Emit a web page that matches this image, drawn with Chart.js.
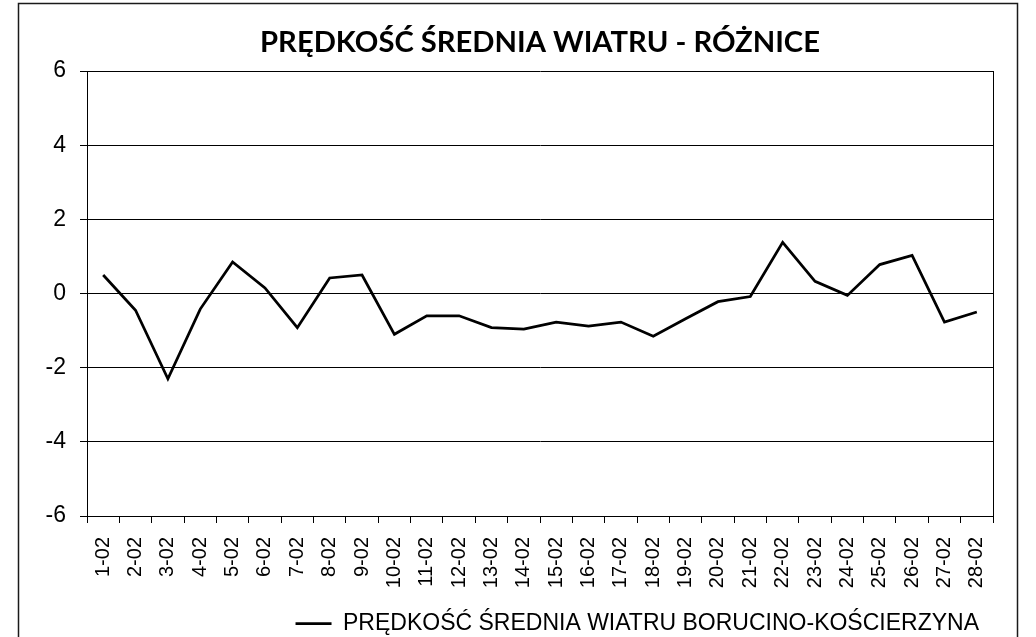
<!DOCTYPE html>
<html><head><meta charset="utf-8">
<script src="https://cdn.jsdelivr.net/npm/chart.js@4"></script>
<style>html,body{margin:0;padding:0;background:#fff}canvas{display:block}</style>
</head><body>
<canvas id="c" width="1036" height="637"></canvas>
<script>
const categories = ['1-02','2-02','3-02','4-02','5-02','6-02','7-02','8-02','9-02','10-02','11-02','12-02','13-02','14-02','15-02','16-02','17-02','18-02','19-02','20-02','21-02','22-02','23-02','24-02','25-02','26-02','27-02','28-02'];
const windDiff = [0.5, -0.45, -2.3, -0.42, 0.85, 0.15, -0.92, 0.42, 0.5, -1.1, -0.6, -0.6, -0.92, -0.96, -0.77, -0.88, -0.77, -1.15, -0.68, -0.22, -0.08, 1.38, 0.33, -0.05, 0.78, 1.03, -0.77, -0.5];
const yMin = -6, yMax = 6, yStep = 2;
const chartTitle = 'PRĘDKOŚĆ ŚREDNIA WIATRU - RÓŻNICE';
const seriesName = 'PRĘDKOŚĆ ŚREDNIA WIATRU BORUCINO-KOŚCIERZYNA';

const frame = {
  id: 'frame',
  beforeDraw(chart) {
    const ctx = chart.ctx;
    ctx.save();
    ctx.fillStyle = '#fff';
    ctx.fillRect(0, 0, chart.width, chart.height);
    ctx.strokeStyle = '#1a1a1a';
    ctx.lineWidth = 1.5;
    ctx.strokeRect(18.5, 3.5, 999, 700);
    ctx.restore();
  },
  afterDraw(chart) {
    const a = chart.chartArea, ctx = chart.ctx;
    ctx.save();
    ctx.strokeStyle = '#000';
    ctx.lineWidth = 1;
    const x = Math.round(a.right) + 0.5;
    ctx.beginPath();
    ctx.moveTo(x, Math.round(a.top));
    ctx.lineTo(x, Math.round(a.bottom) + 7);
    ctx.stroke();
    ctx.restore();
  }
};

const sansFamily = "'Liberation Sans', Arial, sans-serif";

new Chart(document.getElementById('c'), {
  type: 'line',
  data: {
    labels: categories,
    datasets: [{
      label: seriesName,
      data: windDiff,
      borderColor: '#000',
      backgroundColor: '#000',
      borderWidth: 2.75,
      pointRadius: 0,
      tension: 0,
      fill: false
    }]
  },
  options: {
    responsive: false,
    animation: false,
    devicePixelRatio: 1,
    layout: {padding: {left: 0, right: 43, top: 0, bottom: -8}},
    plugins: {
      title: {
        display: true,
        text: chartTitle,
        fullSize: false,
        color: '#000',
        font: {family: 'Lato, sans-serif', weight: 'bold', size: 29.2},
        padding: {top: 25, bottom: 11}
      },
      legend: {
        display: true,
        position: 'bottom',
        align: 'end',
        fullSize: false,
        labels: {
          color: '#000',
          font: {family: sansFamily, size: 23},
          usePointStyle: true,
          pointStyle: 'line',
          pointStyleWidth: 36,
          padding: 14
        }
      },
      tooltip: {enabled: false}
    },
    scales: {
      x: {
        offset: true,
        grid: {offset: true, drawOnChartArea: false, tickLength: 7, color: '#000', lineWidth: 1},
        border: {display: true, color: '#000', width: 1},
        ticks: {autoSkip: false, maxRotation: 90, minRotation: 90, color: '#000', font: {family: sansFamily, size: 20}, padding: 14},
        afterFit(s) { s.height = 82; }
      },
      y: {
        min: yMin, max: yMax,
        grid: {color: '#000', lineWidth: 1, tickLength: 7},
        border: {display: true, color: '#000', width: 1},
        ticks: {stepSize: yStep, color: '#000', font: {family: sansFamily, size: 23}, padding: 14},
        afterFit(s) { s.width = 87; }
      }
    }
  },
  plugins: [frame]
});
</script>
</body></html>
